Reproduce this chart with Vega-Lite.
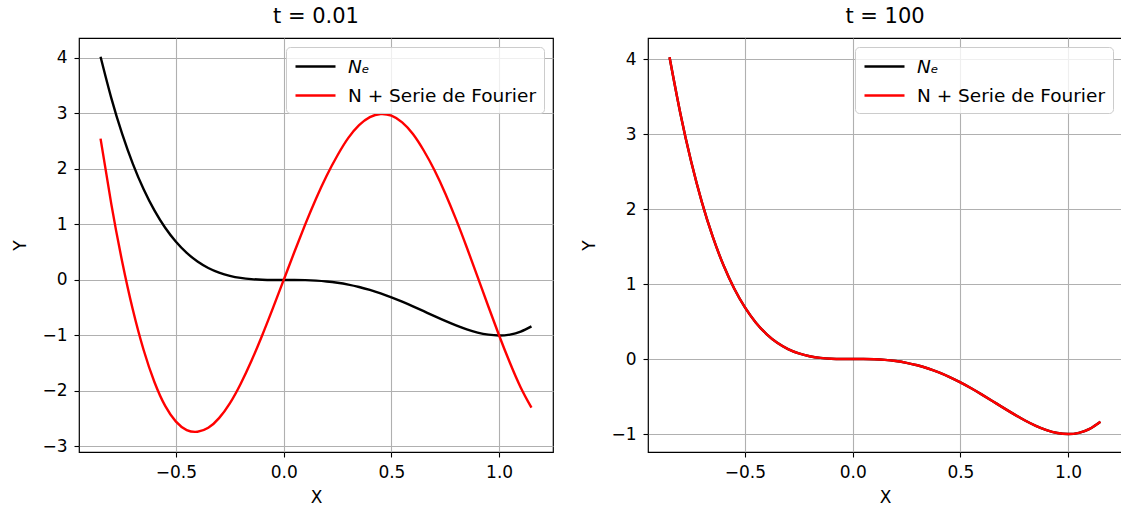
{
  "$schema": "https://vega.github.io/schema/vega-lite/v6.json",
  "background": "white",
  "padding": {"left": 11, "top": 5, "right": 0, "bottom": 0},
  "spacing": 95,
  "bounds": "flush",
  "config": {
    "font": "DejaVu Sans",
    "view": {"stroke": "black", "strokeWidth": 1.2},
    "axis": {
      "grid": true,
      "gridColor": "#b0b0b0",
      "gridWidth": 1.1,
      "domain": false,
      "tickColor": "black",
      "tickSize": 5,
      "tickWidth": 1.1,
      "labelFont": "DejaVu Sans",
      "labelFontSize": 17,
      "labelColor": "black",
      "labelPadding": 7,
      "titleFont": "DejaVu Sans",
      "titleFontSize": 17,
      "titleFontWeight": "normal",
      "titleColor": "black"
    },
    "axisX": {"titlePadding": 9},
    "axisY": {"titlePadding": 12},
    "title": {
      "font": "DejaVu Sans",
      "fontSize": 21,
      "fontWeight": "normal",
      "color": "black",
      "anchor": "middle",
      "frame": "group",
      "baseline": "alphabetic",
      "offset": 11
    },
    "legend": {
      "orient": "top-right",
      "offset": 9,
      "padding": 8,
      "fillColor": "rgba(255,255,255,0.8)",
      "strokeColor": "#cccccc",
      "cornerRadius": 4,
      "labelFont": "DejaVu Sans",
      "labelFontSize": 18.5,
      "labelColor": "black",
      "labelOffset": 31,
      "labelLimit": 400,
      "symbolType": "M-1,0H3",
      "symbolSize": 400,
      "symbolStrokeWidth": 2.4,
      "rowPadding": 8
    }
  },
  "datasets": {
    "curves": [
      {"x": -0.85, "ne": 4.0225, "f1": 2.547, "f100": 4.0225},
      {"x": -0.8, "ne": 3.2768, "f1": 1.3665, "f100": 3.2768},
      {"x": -0.75, "ne": 2.6367, "f1": 0.3386, "f100": 2.6367},
      {"x": -0.7, "ne": 2.0923, "f1": -0.537, "f100": 2.0923},
      {"x": -0.65, "ne": 1.634, "f1": -1.2618, "f100": 1.634},
      {"x": -0.6, "ne": 1.2528, "f1": -1.8381, "f100": 1.2528},
      {"x": -0.55, "ne": 0.94, "f1": -2.27, "f100": 0.94},
      {"x": -0.5, "ne": 0.6875, "f1": -2.5525, "f100": 0.6875},
      {"x": -0.45, "ne": 0.4875, "f1": -2.705, "f100": 0.4875},
      {"x": -0.4, "ne": 0.3328, "f1": -2.735, "f100": 0.3328},
      {"x": -0.35, "ne": 0.2165, "f1": -2.665, "f100": 0.2165},
      {"x": -0.3, "ne": 0.1323, "f1": -2.49, "f100": 0.1323},
      {"x": -0.25, "ne": 0.0742, "f1": -2.2239, "f100": 0.0742},
      {"x": -0.2, "ne": 0.0368, "f1": -1.8735, "f100": 0.0368},
      {"x": -0.15, "ne": 0.015, "f1": -1.4605, "f100": 0.015},
      {"x": -0.1, "ne": 0.0043, "f1": -1.0, "f100": 0.0043},
      {"x": -0.05, "ne": 0.0005, "f1": -0.5079, "f100": 0.0005},
      {"x": 0.0, "ne": 0.0, "f1": 0.0, "f100": 0.0},
      {"x": 0.05, "ne": -0.0005, "f1": 0.5079, "f100": -0.0005},
      {"x": 0.1, "ne": -0.0037, "f1": 1.0006, "f100": -0.0037},
      {"x": 0.15, "ne": -0.012, "f1": 1.4635, "f100": -0.012},
      {"x": 0.2, "ne": -0.0272, "f1": 1.8831, "f100": -0.0272},
      {"x": 0.25, "ne": -0.0508, "f1": 2.2473, "f100": -0.0508},
      {"x": 0.3, "ne": -0.0837, "f1": 2.56, "f100": -0.0837},
      {"x": 0.35, "ne": -0.1265, "f1": 2.79, "f100": -0.1265},
      {"x": 0.4, "ne": -0.1792, "f1": 2.935, "f100": -0.1792},
      {"x": 0.45, "ne": -0.2415, "f1": 2.99, "f100": -0.2415},
      {"x": 0.5, "ne": -0.3125, "f1": 2.96, "f100": -0.3125},
      {"x": 0.55, "ne": -0.391, "f1": 2.84, "f100": -0.391},
      {"x": 0.6, "ne": -0.4752, "f1": 2.63, "f100": -0.4752},
      {"x": 0.65, "ne": -0.563, "f1": 2.3328, "f100": -0.563},
      {"x": 0.7, "ne": -0.6517, "f1": 1.9776, "f100": -0.6517},
      {"x": 0.75, "ne": -0.7383, "f1": 1.5598, "f100": -0.7383},
      {"x": 0.8, "ne": -0.8192, "f1": 1.0911, "f100": -0.8192},
      {"x": 0.85, "ne": -0.8905, "f1": 0.585, "f100": -0.8905},
      {"x": 0.9, "ne": -0.9477, "f1": 0.0566, "f100": -0.9477},
      {"x": 0.95, "ne": -0.986, "f1": -0.4776, "f100": -0.986},
      {"x": 1.0, "ne": -1.0, "f1": -1.0, "f100": -1.0},
      {"x": 1.05, "ne": -0.984, "f1": -1.4924, "f100": -0.984},
      {"x": 1.1, "ne": -0.9317, "f1": -1.936, "f100": -0.9317},
      {"x": 1.15, "ne": -0.8365, "f1": -2.3, "f100": -0.8365}
    ]
  },
  "hconcat": [
    {
      "width": 474,
      "height": 414,
      "title": "t = 0.01",
      "data": {"name": "curves"},
      "encoding": {
        "x": {
          "field": "x",
          "type": "quantitative",
          "scale": {"domain": [-0.95, 1.25], "nice": false, "zero": false},
          "axis": {"values": [-0.5, 0, 0.5, 1], "format": ".1f", "title": "X"}
        }
      },
      "layer": [
        {
          "mark": {"type": "line", "interpolate": "natural", "strokeWidth": 2.4},
          "encoding": {
            "y": {
              "field": "ne",
              "type": "quantitative",
              "scale": {"domain": [-3.1, 4.36], "nice": false, "zero": false},
              "axis": {"values": [-3, -2, -1, 0, 1, 2, 3, 4], "format": "d", "title": "Y"}
            },
            "color": {
              "datum": "Nₑ",
              "type": "nominal",
              "scale": {"domain": ["Nₑ", "N + Serie de Fourier"], "range": ["black", "red"]},
              "legend": {
                "title": null,
                "encode": {"labels": {"update": {"fontStyle": {"signal": "datum.value === 'Nₑ' ? 'italic' : 'normal'"}}}}
              }
            }
          }
        },
        {
          "mark": {"type": "line", "interpolate": "natural", "strokeWidth": 2.4},
          "encoding": {
            "y": {"field": "f1", "type": "quantitative", "axis": {"title": "Y"}},
            "color": {"datum": "N + Serie de Fourier", "type": "nominal"}
          }
        }
      ]
    },
    {
      "width": 474,
      "height": 414,
      "title": "t = 100",
      "data": {"name": "curves"},
      "encoding": {
        "x": {
          "field": "x",
          "type": "quantitative",
          "scale": {"domain": [-0.95, 1.25], "nice": false, "zero": false},
          "axis": {"values": [-0.5, 0, 0.5, 1], "format": ".1f", "title": "X"}
        }
      },
      "layer": [
        {
          "mark": {"type": "line", "interpolate": "natural", "strokeWidth": 2.4},
          "encoding": {
            "y": {
              "field": "ne",
              "type": "quantitative",
              "scale": {"domain": [-1.24, 4.28], "nice": false, "zero": false},
              "axis": {"values": [-1, 0, 1, 2, 3, 4], "format": "d", "title": "Y"}
            },
            "color": {
              "datum": "Nₑ",
              "type": "nominal",
              "scale": {"domain": ["Nₑ", "N + Serie de Fourier"], "range": ["black", "red"]},
              "legend": {
                "title": null,
                "encode": {"labels": {"update": {"fontStyle": {"signal": "datum.value === 'Nₑ' ? 'italic' : 'normal'"}}}}
              }
            }
          }
        },
        {
          "mark": {"type": "line", "interpolate": "natural", "strokeWidth": 2.4},
          "encoding": {
            "y": {"field": "f100", "type": "quantitative", "axis": {"title": "Y"}},
            "color": {"datum": "N + Serie de Fourier", "type": "nominal"}
          }
        }
      ]
    }
  ],
  "resolve": {"scale": {"color": "independent"}, "legend": {"color": "independent"}}
}
